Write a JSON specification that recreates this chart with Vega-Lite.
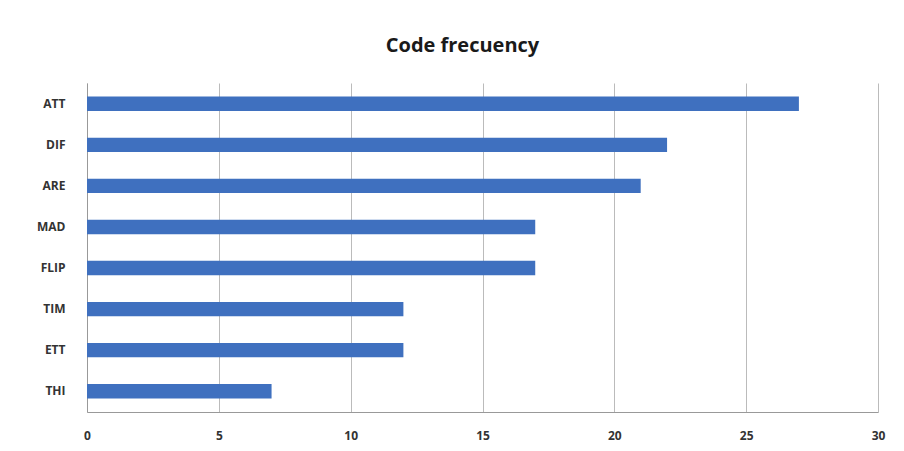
{
  "$schema": "https://vega.github.io/schema/vega-lite/v6.json",
  "autosize": "none",
  "width": 791,
  "height": 329,
  "padding": {"left": 87, "top": 83, "right": 26, "bottom": 39},
  "background": "white",
  "title": {
    "text": "Code frecuency",
    "font": "Open Sans",
    "fontSize": 20,
    "fontWeight": "bold",
    "color": "#1a1a1a",
    "anchor": "middle",
    "dx": -20,
    "offset": 27
  },
  "data": {
    "values": [
      {"code": "ATT", "freq": 27},
      {"code": "DIF", "freq": 22},
      {"code": "ARE", "freq": 21},
      {"code": "MAD", "freq": 17},
      {"code": "FLIP", "freq": 17},
      {"code": "TIM", "freq": 12},
      {"code": "ETT", "freq": 12},
      {"code": "THI", "freq": 7}
    ]
  },
  "mark": {"type": "bar", "color": "#3F70BF"},
  "encoding": {
    "y": {
      "field": "code",
      "type": "nominal",
      "sort": null,
      "scale": {"paddingInner": 0.65, "paddingOuter": 0.33},
      "axis": {
        "title": null,
        "ticks": false,
        "labelPadding": 22,
        "labelFont": "Open Sans",
        "labelFontSize": 12,
        "labelFontWeight": "bold",
        "labelColor": "#333333",
        "domainColor": "#999999"
      }
    },
    "x": {
      "field": "freq",
      "type": "quantitative",
      "scale": {"domain": [0, 30], "nice": false},
      "axis": {
        "title": null,
        "values": [0, 5, 10, 15, 20, 25, 30],
        "ticks": false,
        "labelFlush": false,
        "labelPadding": 18,
        "labelFont": "Open Sans",
        "labelFontSize": 12,
        "labelFontWeight": "bold",
        "labelColor": "#333333",
        "domainColor": "#999999",
        "grid": true,
        "gridColor": "#bbbbbb"
      }
    }
  },
  "config": {"view": {"stroke": null}}
}
